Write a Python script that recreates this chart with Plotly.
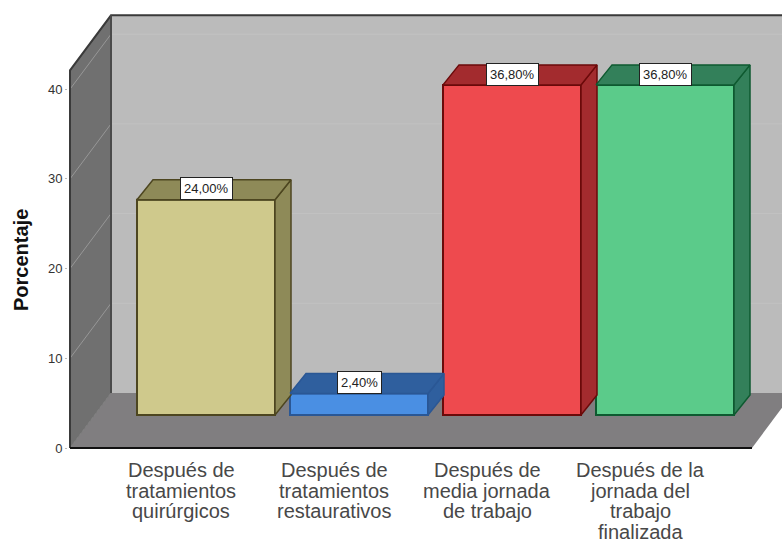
import plotly.graph_objects as go

# Survey results
categories = [
    ["Después de", "tratamientos", "quirúrgicos"],
    ["Después de", "tratamientos", "restaurativos"],
    ["Después de", "media jornada", "de trabajo"],
    ["Después de la", "jornada del", "trabajo", "finalizada"],
]
values = [24.0, 2.4, 36.8, 36.8]
value_labels = ["24,00%", "2,40%", "36,80%", "36,80%"]
y_ticks = [0, 10, 20, 30, 40]

# Per-bar colours: front, top/side, outline
front_colors = ["#CFC98C", "#4A8FE3", "#EE4A4E", "#5BCB8A"]
shade_colors = ["#8E8A58", "#2F5F9E", "#A32B2E", "#33805A"]
edge_colors = ["#4D4620", "#2A5795", "#6B0A0A", "#0E5A30"]

# Plot scale, in pixels per data unit
X_UNIT = 153.0
Y_UNIT = 8.97
WIDTH, HEIGHT = 782, 542
LEFT, BOTTOM = 68, 91
ORIGIN_X = 181  # pixel column of the first category

# Oblique projection of the box and of the bars inside it
BOX_DX, BOX_DY = 41 / X_UNIT, 55 / Y_UNIT
BAR_X0, BAR_Y0 = 25 / X_UNIT, 33 / Y_UNIT
BAR_DX, BAR_DY = 16 / X_UNIT, 20 / Y_UNIT
BAR_WIDTH = 138 / X_UNIT
BOX_LEFT = (70 - ORIGIN_X) / X_UNIT
BOX_RIGHT = (752 - ORIGIN_X) / X_UNIT
BOX_TOP = 42.1
X_MAX = (WIDTH - ORIGIN_X) / X_UNIT


def path(points):
    return "M" + "L".join(f"{x},{y}" for x, y in points) + "Z"


def open_path(points):
    return "M" + "L".join(f"{x},{y}" for x, y in points)


def poly_shape(points, fill):
    return dict(type="path", path=path(points), xref="x", yref="y", layer="below",
                fillcolor=fill, line=dict(width=0))


def line_shape(points, color, width):
    return dict(type="path", path=open_path(points), xref="x", yref="y", layer="below",
                line=dict(color=color, width=width))


far_right = BOX_RIGHT + BOX_DX
shapes = [
    # back wall, left wall, floor
    poly_shape([(BOX_LEFT + BOX_DX, BOX_DY), (X_MAX + 0.1, BOX_DY),
                (X_MAX + 0.1, BOX_TOP + BOX_DY), (BOX_LEFT + BOX_DX, BOX_TOP + BOX_DY)], "#BBBBBB"),
    poly_shape([(BOX_LEFT, 0), (BOX_LEFT + BOX_DX, BOX_DY),
                (BOX_LEFT + BOX_DX, BOX_TOP + BOX_DY), (BOX_LEFT, BOX_TOP)], "#707070"),
    poly_shape([(BOX_LEFT, 0), (BOX_RIGHT, 0), (far_right, BOX_DY),
                (BOX_LEFT + BOX_DX, BOX_DY)], "#807E80"),
]

# Gridlines run along the left wall and across the back wall
for tick in y_ticks[1:]:
    shapes.append(line_shape([(BOX_LEFT, tick), (BOX_LEFT + BOX_DX, tick + BOX_DY)], "#979797", 1))
    shapes.append(line_shape([(BOX_LEFT + BOX_DX, tick + BOX_DY), (X_MAX + 0.1, tick + BOX_DY)], "#C2C2C2", 1))
shapes.append(line_shape([(BOX_LEFT, 0), (BOX_LEFT + BOX_DX, BOX_DY)], "#787878", 1))

# Box outline
shapes += [
    line_shape([(BOX_LEFT, 0), (BOX_LEFT, BOX_TOP), (BOX_LEFT + BOX_DX, BOX_TOP + BOX_DY),
                (X_MAX + 0.1, BOX_TOP + BOX_DY)], "#3A3A3A", 2),
    line_shape([(BOX_LEFT + BOX_DX, BOX_DY), (BOX_LEFT + BOX_DX, BOX_TOP + BOX_DY)], "#4A4A4A", 2),
    line_shape([(BOX_LEFT, 0), (BOX_RIGHT, 0)], "#111111", 2),
]

fig = go.Figure()

centers = [i + BAR_X0 for i in range(len(values))]

# Front faces
fig.add_trace(go.Bar(
    x=centers, y=values, base=[BAR_Y0] * len(values), width=BAR_WIDTH,
    marker=dict(color=front_colors, line=dict(color=edge_colors, width=2)),
    hoverinfo="skip", showlegend=False,
))

# Top and side faces follow from each bar's value
for center, value, shade, edge in zip(centers, values, shade_colors, edge_colors):
    x0, x1 = center - BAR_WIDTH / 2, center + BAR_WIDTH / 2
    y0, y1 = BAR_Y0, BAR_Y0 + value
    top_x = [x0, x1, x1 + BAR_DX, x0 + BAR_DX, x0]
    top_y = [y1, y1, y1 + BAR_DY, y1 + BAR_DY, y1]
    side_x = [x1, x1 + BAR_DX, x1 + BAR_DX, x1, x1]
    side_y = [y0, y0 + BAR_DY, y1 + BAR_DY, y1, y0]
    for xs, ys in ((side_x, side_y), (top_x, top_y)):
        fig.add_trace(go.Scatter(
            x=xs, y=ys, mode="lines", fill="toself", fillcolor=shade,
            line=dict(color=edge, width=1.5), hoverinfo="skip", showlegend=False,
        ))

annotations = []

# Value boxes sit on the top face of each bar
for center, value, text in zip(centers, values, value_labels):
    annotations.append(dict(
        x=center, y=BAR_Y0 + value + BAR_DY / 2 + 0.1, xref="x", yref="y", text=text, showarrow=False,
        font=dict(family="Liberation Sans", size=13, color="#222222"),
        bgcolor="white", bordercolor="#222222", borderwidth=1, borderpad=3,
    ))

# Category captions use a tighter leading than tick labels allow
for i, lines in enumerate(categories):
    for k, line in enumerate(lines):
        annotations.append(dict(
            x=i, y=0, xref="x", yref="y", text=line, showarrow=False,
            yanchor="middle", yshift=-(22 + 20.5 * k),
            font=dict(family="Liberation Sans", size=20, color="#484848"),
        ))

# Rotated axis title, placed in paper coordinates relative to the plot area
annotations.append(dict(
    x=(21 - LEFT) / (WIDTH - LEFT),
    y=(HEIGHT - BOTTOM - 260) / (HEIGHT - BOTTOM),
    xref="paper", yref="paper", xanchor="center", yanchor="middle",
    text="<b>Porcentaje</b>", showarrow=False, textangle=-90,
    font=dict(family="Liberation Sans", size=20, color="#111111"),
))

fig.update_layout(
    width=WIDTH, height=HEIGHT,
    margin=dict(l=LEFT, r=0, t=0, b=BOTTOM, pad=0),
    paper_bgcolor="white", plot_bgcolor="white",
    shapes=shapes, annotations=annotations, showlegend=False,
    xaxis=dict(range=[(LEFT - ORIGIN_X) / X_UNIT, X_MAX], showgrid=False, zeroline=False,
               showticklabels=False, ticks=""),
    yaxis=dict(range=[-3 / Y_UNIT, (HEIGHT - BOTTOM - 3) / Y_UNIT], tickvals=y_ticks,
               showgrid=False, zeroline=False, ticks="outside", ticklen=2, tickcolor="#BBBBBB",
               tickfont=dict(family="Liberation Sans", size=13, color="#333333")),
)

fig.write_html("out.html", config=dict(displayModeBar=False))
